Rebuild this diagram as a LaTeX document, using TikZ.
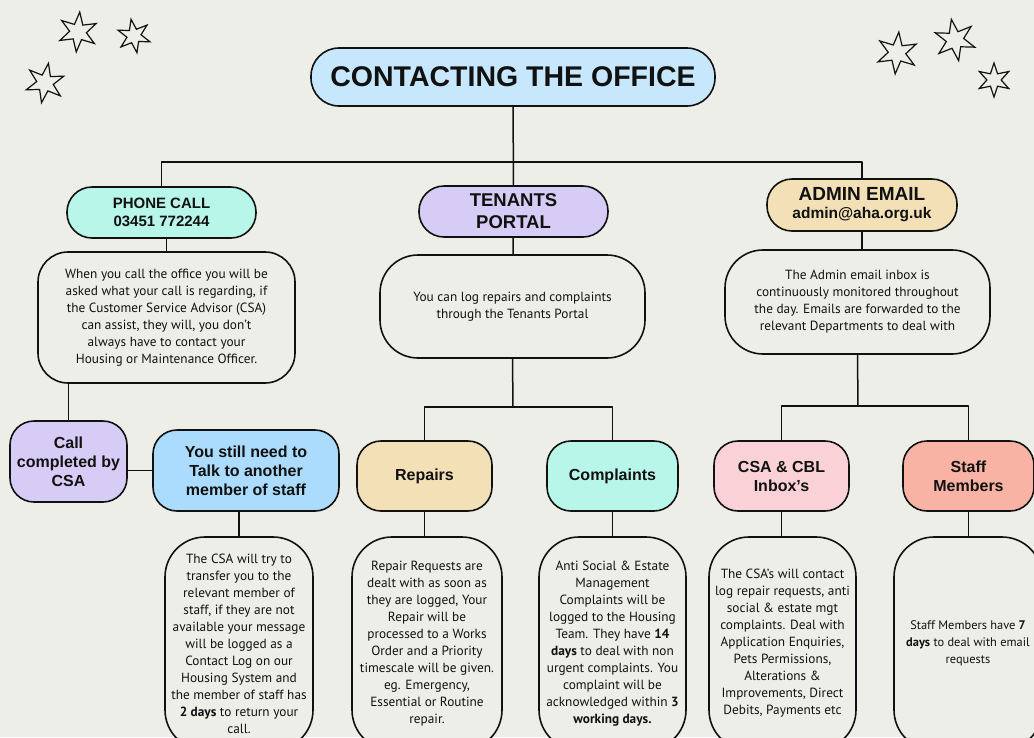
\documentclass[tikz,border=0pt]{standalone}
\usepackage{xcolor}
\usepackage{fontspec}
\setmainfont{Liberation Sans}
\newfontfamily\bodyfont{PT Sans}
\usepackage{tikz}
\usetikzlibrary{calc,positioning}
\definecolor{ink}{HTML}{111111}
\definecolor{paper}{HTML}{EEEEE8}
\definecolor{titleblue}{HTML}{C6E7FC}
\definecolor{mint}{HTML}{B8F6E9}
\definecolor{lilac}{HTML}{D7CCF5}
\definecolor{skyblue}{HTML}{ABDCFD}
\definecolor{sand}{HTML}{F3E0B7}
\definecolor{blush}{HTML}{F9D1D6}
\definecolor{salmon}{HTML}{F8B3A4}
% six pointed doodle star: x, y, radius, rotation
\newcommand{\sketchstar}[4]{%
  \draw[starline] ([shift={(#1,#2)}]#4:#3)
    \foreach \k [evaluate=\k as \rr using {0.42*#3+0.58*#3*(1-mod(\k,2))}] in {1,...,11} {-- ([shift={(#1,#2)}]#4+\k*30:\rr)} -- cycle;}

\begin{document}
\begin{tikzpicture}[x=1pt,y=-1pt,line join=round,
   conn/.style={draw=ink,line width=1.5pt},
   boxbase/.style={draw=ink,line width=1.6pt,align=center,inner sep=0pt,text=ink},
   head/.style={boxbase,rounded corners=25pt,minimum height=51pt,font=\bfseries\fontsize{15}{18}\selectfont},
   choice/.style={boxbase,rounded corners=24pt,font=\bfseries\fontsize{16}{19}\selectfont},
   info/.style={boxbase,fill=paper,font=\bodyfont\fontsize{13.3}{17}\selectfont},
   tall/.style={info,rounded corners=40pt,minimum height=213pt},
   starline/.style={draw=ink,line width=1.2pt,line join=miter}]
\useasboundingbox (0,0) rectangle (1034,737);
\clip (0,0) rectangle (1034,737);
\fill[paper] (0,0) rectangle (1034,737);
% stars
\sketchstar{78}{32}{20}{95}
\sketchstar{134}{36}{17}{80}
\sketchstar{45}{83}{20}{100}
\sketchstar{897}{53}{21}{95}
\sketchstar{955}{40}{21}{80}
\sketchstar{994}{80}{17}{90}
% title
\node[boxbase,fill=titleblue,rounded corners=28pt,minimum width=404pt,minimum height=58pt,font=\bfseries\fontsize{28.5}{32}\selectfont] (title) at (513,77) {CONTACTING THE OFFICE};
% three ways in
\node[head,fill=mint,minimum width=189pt] (phone) at (161.5,212.5) {PHONE CALL\\03451 772244};
\node[head,fill=lilac,minimum width=189pt,font=\bfseries\fontsize{18.5}{22}\selectfont] (portal) at (513.5,211.5) {TENANTS\\PORTAL};
\node[head,fill=sand,minimum width=190pt,minimum height=52pt] (admin) at (862,205) {\fontsize{19}{23}\selectfont ADMIN EMAIL\\\fontsize{15.5}{19}\selectfont admin@aha.org.uk};
% descriptions
\node[info,rounded corners=30pt,minimum width=257pt,minimum height=131pt] (calldesc) at (166.5,317.5) {When you call the office you will be\\asked what your call is regarding, if\\the Customer Service Advisor (CSA)\\can assist, they will, you don’t\\always have to contact your\\Housing or Maintenance Officer.};
\node[info,rounded corners=38pt,minimum width=265pt,minimum height=103pt] (portaldesc) at (512.5,306.5) {You can log repairs and complaints\\through the Tenants Portal};
\node[info,rounded corners=38pt,minimum width=265pt,minimum height=104pt] (admindesc) at (857.5,302) {The Admin email inbox is\\continuously monitored throughout\\the day. Emails are forwarded to the\\relevant Departments to deal with};
% outcomes
\node[choice,fill=lilac,minimum width=117pt,minimum height=81pt] (csadone) at (68.5,461.5) {Call\\completed by\\CSA};
\node[choice,fill=skyblue,minimum width=186pt,minimum height=81pt] (transfer) at (246,470.5) {You still need to\\Talk to another\\member of staff};
\node[choice,fill=sand,minimum width=135pt,minimum height=70pt] (repairs) at (424.5,476) {Repairs};
\node[choice,fill=mint,minimum width=131pt,minimum height=70pt] (complaints) at (612.5,476) {Complaints};
\node[choice,fill=blush,minimum width=135pt,minimum height=70pt] (inboxes) at (781.5,476) {CSA \& CBL\\Inbox’s};
\node[choice,fill=salmon,minimum width=131pt,minimum height=70pt] (staff) at (968.5,476) {Staff\\Members};
% details
\node[tall,minimum width=148pt] (transferinfo) at (239,643.5) {The CSA will try to\\transfer you to the\\relevant member of\\staff, if they are not\\available your message\\will be logged as a\\Contact Log on our\\Housing System and\\the member of staff has\\\textbf{2 days} to return your\\call.};
\node[tall,minimum width=150pt] (repairinfo) at (427,643.5) {Repair Requests are\\dealt with as soon as\\they are logged, Your\\Repair will be\\processed to a Works\\Order and a Priority\\timescale will be given.\\eg. Emergency,\\Essential or Routine\\repair.};
\node[tall,minimum width=147pt] (complaintinfo) at (612.5,643.5) {Anti Social \& Estate\\Management\\Complaints will be\\logged to the Housing\\Team. They have \textbf{14}\\\textbf{days} to deal with non\\urgent complaints. You\\complaint will be\\acknowledged within \textbf{3}\\\textbf{working days.}};
\node[tall,minimum width=147pt] (inboxinfo) at (782.5,643.5) {The CSA’s will contact\\log repair requests, anti\\social \& estate mgt\\complaints. Deal with\\Application Enquiries,\\Pets Permissions,\\Alterations \&\\Improvements, Direct\\Debits, Payments etc};
\node[tall,minimum width=148pt,font=\bodyfont\fontsize{12.4}{17}\selectfont] (staffinfo) at (968,643.5) {Staff Members have \textbf{7}\\\textbf{days} to deal with email\\requests};
% connectors
\coordinate (fork) at (513,162);
\coordinate (portalfork) at (513,407);
\coordinate (adminfork) at (858,406);
\draw[conn] (title) -- (portal);
\draw[conn] (phone.north) -- (phone.north |- fork) -- (admin.north |- fork) -- (admin.north);
\draw[conn] (calldesc.north) -- (calldesc.north |- phone.south);
\draw[conn] (csadone.north) -- (csadone.north |- calldesc.south);
\draw[conn] (transfer.west) -- (transfer.west -| csadone.east);
\draw[conn] (transferinfo.north) -- (transferinfo.north |- transfer.south);
\draw[conn] (portal) -- (portaldesc);
\draw[conn] (portaldesc.south) -- (portalfork);
\draw[conn] (repairs.north) |- (portalfork) -| (complaints.north);
\draw[conn] (repairs.south) -- (repairs.south |- repairinfo.north);
\draw[conn] (complaints.south) -- (complaints.south |- complaintinfo.north);
\draw[conn] (admin.south) -- (admin.south |- admindesc.north);
\draw[conn] (admindesc.south) -- (adminfork);
\draw[conn] (inboxes.north) |- (adminfork) -| (staff.north);
\draw[conn] (inboxes.south) -- (inboxes.south |- inboxinfo.north);
\draw[conn] (staff.south) -- (staff.south |- staffinfo.north);
\end{tikzpicture}
\end{document}
